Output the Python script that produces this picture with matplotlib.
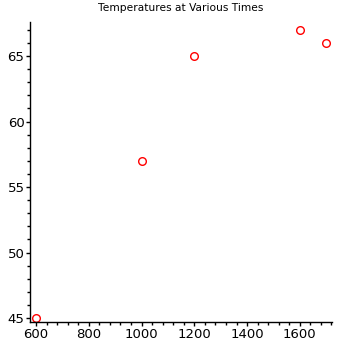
import matplotlib
matplotlib.use('Agg')
import matplotlib.pyplot as plt
from matplotlib.ticker import MultipleLocator

# Temperature readings at various times
times = [600, 1000, 1200, 1600, 1700]
temps = [45, 57, 65, 67, 66]

fig = plt.figure(figsize=(3.42, 3.42), dpi=100)
ax = fig.add_axes([30/342, 20/342, 302/342, 300/342])

ax.plot(times, temps, linestyle='none', marker='o', markersize=5.5,
        markerfacecolor='none', markeredgecolor='red', markeredgewidth=1)

ax.set_xlim(577, 1722)
ax.set_ylim(44.7, 67.6)
ax.xaxis.set_major_locator(MultipleLocator(200))
ax.xaxis.set_minor_locator(MultipleLocator(40))
ax.yaxis.set_major_locator(MultipleLocator(5))
ax.yaxis.set_minor_locator(MultipleLocator(1))

for s in ['top', 'right']:
    ax.spines[s].set_visible(False)
for s in ['left', 'bottom']:
    ax.spines[s].set_linewidth(1)
    ax.spines[s].set_color('black')

ax.tick_params(which='major', length=3, width=1, labelsize=9.5, pad=1)
ax.tick_params(which='minor', length=2, width=1)

ax.set_title('Temperatures at Various Times', fontsize=7.7, pad=8)

plt.savefig('out.png', dpi=100)
plt.close()
